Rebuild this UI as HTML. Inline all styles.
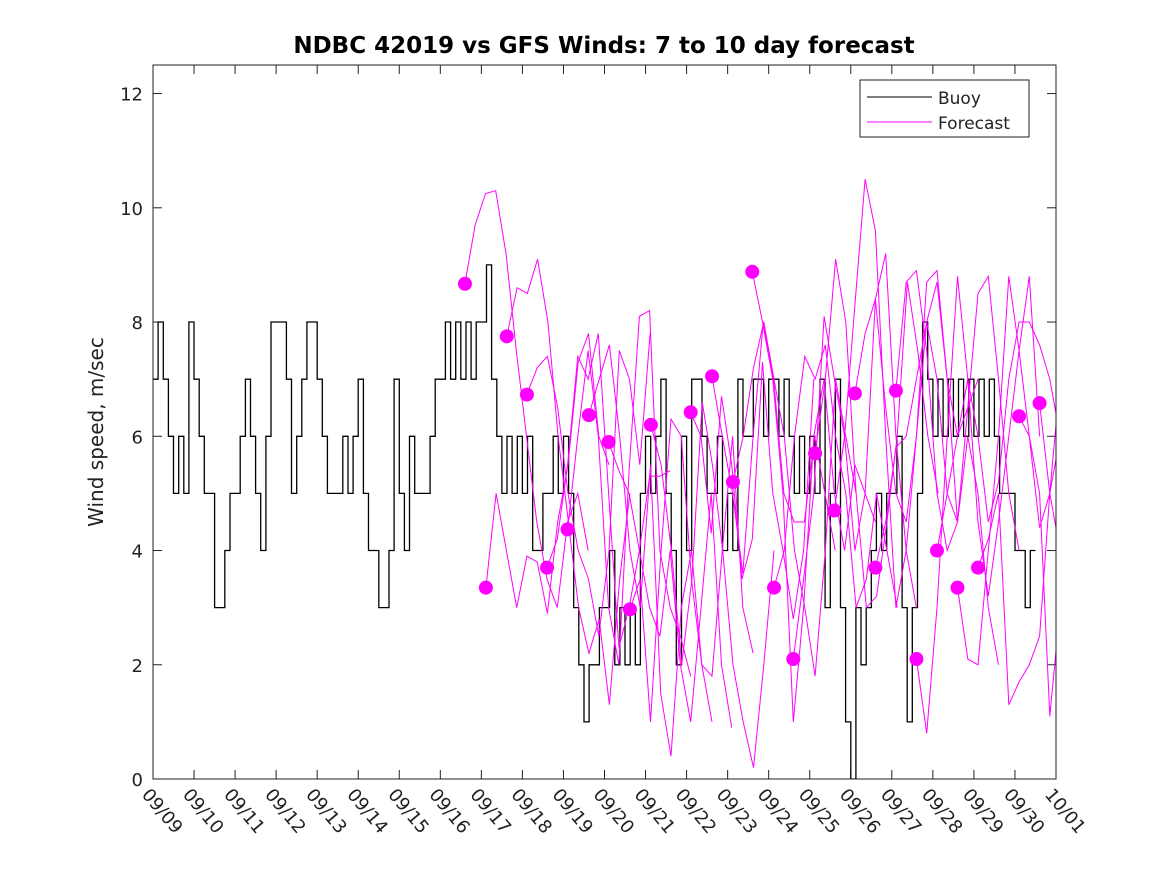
<!DOCTYPE html>
<html><head><meta charset="utf-8"><style>
body{margin:0;background:#fff}
svg text{font-family:"DejaVu Sans","Liberation Sans",sans-serif}
</style></head><body>
<svg id="chart" width="1167" height="875">
<rect x="0" y="0" width="1167" height="875" fill="#fff"/>
<text x="604" y="53" text-anchor="middle" font-size="23" font-weight="bold">NDBC 42019 vs GFS Winds: 7 to 10 day forecast</text>
<text transform="translate(103,432) rotate(-90)" text-anchor="middle" font-size="20" fill="#222">Wind speed, m/sec</text>
<defs><clipPath id="pc"><rect x="153" y="65" width="903" height="714"/></clipPath></defs>
<g id="ticks"></g>
<g id="plot" clip-path="url(#pc)"></g>
<rect x="153" y="65" width="903" height="714" fill="none" stroke="#222" stroke-width="1"/>
<g>
<rect x="860" y="80" width="169" height="57" fill="#fff" stroke="#222"/>
<line x1="867" y1="97" x2="932" y2="97" stroke="#000"/>
<text x="938" y="104" font-size="17" fill="#222">Buoy</text>
<line x1="867" y1="122" x2="932" y2="122" stroke="#f0f"/>
<text x="938" y="129" font-size="17" fill="#222">Forecast</text>
</g>
</svg>
<script>
const xTickLabels=["09/09","09/10","09/11","09/12","09/13","09/14","09/15","09/16","09/17","09/18","09/19","09/20","09/21","09/22","09/23","09/24","09/25","09/26","09/27","09/28","09/29","09/30","10/01"];
const yTicks=[0,2,4,6,8,10,12];
const buoyStepHours=3;
const buoy=[7,8,7,6,5,6,5,8,7,6,5,5,3,3,4,5,5,6,7,6,5,4,6,8,8,8,7,5,6,7,8,8,7,6,5,5,5,6,5,6,7,5,4,4,3,3,4,7,5,4,6,5,5,5,6,7,7,8,7,8,7,8,7,8,8,9,7,6,5,6,5,6,5,6,4,4,5,5,6,5,6,5,3,2,1,2,2,3,3,4,2,3,2,3,2,5,6,5,6,7,5,4,2,6,4,7,7,6,5,5,6,4,5,4,7,6,6,7,7,6,7,7,6,7,6,5,6,5,6,5,7,3,5,7,3,1,0,3,2,3,4,5,4,5,5,6,3,1,3,5,8,7,6,7,6,7,6,7,6,7,6,7,6,7,6,5,5,5,4,4,3,4];
const fcStartDays=[7.6,8.11,8.62,9.11,9.6,10.1,10.62,11.1,11.62,12.13,13.1,13.62,14.13,14.6,15.13,15.6,16.13,16.6,17.1,17.6,18.1,18.6,19.1,19.6,20.1,21.1,21.6];
const fcStepHours=6;
const fc=[
[8.67,9.7,10.25,10.3,9.2,7.5,6,4.5,3.5,3,4.5,5,4],
[3.35,5,4,3,3.9,3.8,2.9,4.5,5.5,7.3,7.8,6,5.5],
[7.75,8.6,8.5,9.1,8,6,4.5,3,2.2,2.8,1.3,3.5,5],
[6.73,7.2,7.4,6.5,5,4,3.5,2.5,4,7.5,7,5.5,7.8],
[3.7,4.2,5.5,7.4,7,7.8,5,2.3,3,4,5.3,5.3,5.4],
[4.37,6,7.5,6,3,2,5.4,8.1,8.2,4,3,2.5,1.8],
[6.37,7,7.6,6,4,3,5.5,1.5,0.4,3,4,2,1],
[5.9,5.4,5,4,3,2.5,4,2,1,3,5,2,0.9],
[2.97,3.5,1,3.9,6.3,6,3.5,2,1.8,4,6,3,2.2],
[6.2,5.5,4,2,3.5,6.6,5.5,4,2,1,0.2,2,4],
[6.42,6,4.3,6.7,5.5,3.5,4.2,7.3,5,4,2.8,4,7],
[7.05,6,5,3.6,6,8,7,5,4.5,4.5,6,5,4],
[5.2,6,7.2,8,7,6,4,3,1.8,4,7,6,5],
[8.88,8,7,5,1,3,6,7,5,4,5.5,5,4.5],
[3.35,4,6,7.4,7,7.6,6,5,3,3.5,5,4,3],
[2.1,3.5,5,8.1,7,6,4,5,8.4,9.2,6,4,3],
[5.7,7,9.1,8,5,3,3.2,4.5,6,8.7,7.5,6,5],
[4.7,6,8.3,10.5,9.6,6,3,4,6,8,7,5,4.5],
[6.75,7.8,8.4,6.5,5,4.5,6,8.7,8.9,7,6,6.5,7],
[3.7,4.5,5.8,6,7,8,8.7,7,4.5,6,5,3,2],
[6.8,8.7,8.9,7.5,5,4,4.5,6.5,8.5,8.8,7,5,4],
[2.1,0.8,3,6,8.8,7,4.5,3.2,4.5,6,7.5,8.8,6],
[4.0,5,6,7,6,4.5,5.2,7,8,8,7.6,7,6],
[3.35,2.1,2.0,4,6,8.8,7.5,6,4.4,5,6,7.9,6.5],
[3.7,4.2,5,1.3,1.7,2,2.5,5,7,9.1,9.2,8.9,8.65],
[6.35,6,5,1.1,3,5.6,5.5,4,3.9,5,5.5,4.8,4.6],
[6.58,5,4,3.8,5,7,7.1,7.5,7.6,7,6,5,4]
];
const NS="http://www.w3.org/2000/svg";
const X0=153,X1=1056,Y0=779,YT=65,DAYS=22,YMAX=12.5;
function xs(d){return X0+(X1-X0)*d/DAYS;}
function ys(v){return Y0-(Y0-YT)*v/YMAX;}
function mk(t,a){const e=document.createElementNS(NS,t);for(const k in a)e.setAttribute(k,a[k]);return e;}
const tg=document.getElementById('ticks'),pg=document.getElementById('plot');
yTicks.forEach(v=>{
 const y=ys(v);
 const l1=mk('line',{x1:X0,y1:y,x2:X0+9,y2:y,stroke:'#222'});
 
 
 tg.appendChild(l1);
 const l2=mk('line',{x1:X1-9,y1:y,x2:X1,y2:y,stroke:'#222'});
 
 
 tg.appendChild(l2);
 const t=mk('text',{x:X0-10,y:y+7,'text-anchor':'end','font-size':'18',fill:'#222'});
 t.textContent=v;
 
 
 tg.appendChild(t);
});
xTickLabels.forEach((s,i)=>{
 const x=xs(i);
 const l1=mk('line',{x1:x,y1:Y0,x2:x,y2:Y0-9,stroke:'#222'});
 
 
 tg.appendChild(l1);
 const l2=mk('line',{x1:x,y1:YT,x2:x,y2:YT+9,stroke:'#222'});
 
 
 tg.appendChild(l2);
 const t=mk('text',{x:0,y:0,'font-size':'18',fill:'#222',transform:`translate(${x-12},${Y0+16}) rotate(50)`});
 t.textContent=s;
 
 
 tg.appendChild(t);
});
let d='';
buoy.forEach((v,i)=>{
 const xa=xs(i*buoyStepHours/24),xb=xs((i+1)*buoyStepHours/24),y=ys(v);
 d+=(i===0?'M':'L')+xa.toFixed(1)+','+y.toFixed(1)+'L'+xb.toFixed(1)+','+y.toFixed(1);
});
const bp=mk('path',{d:d,fill:'none',stroke:'#000','stroke-width':'1.3'});


pg.appendChild(bp);
fc.forEach((run,r)=>{
 const s=fcStartDays[r];
 const pts=run.map((v,i)=>xs(s+i*fcStepHours/24).toFixed(1)+','+ys(v).toFixed(1)).join(' ');
 const pl=mk('polyline',{points:pts,fill:'none',stroke:'#f0f','stroke-width':'1'});
 
 
 pg.appendChild(pl);
});
fc.forEach((run,r)=>{
 const c=mk('circle',{cx:xs(fcStartDays[r]),cy:ys(run[0]),r:7,fill:'#f0f'});
 
 
 pg.appendChild(c);
});
</script>
</body></html>
